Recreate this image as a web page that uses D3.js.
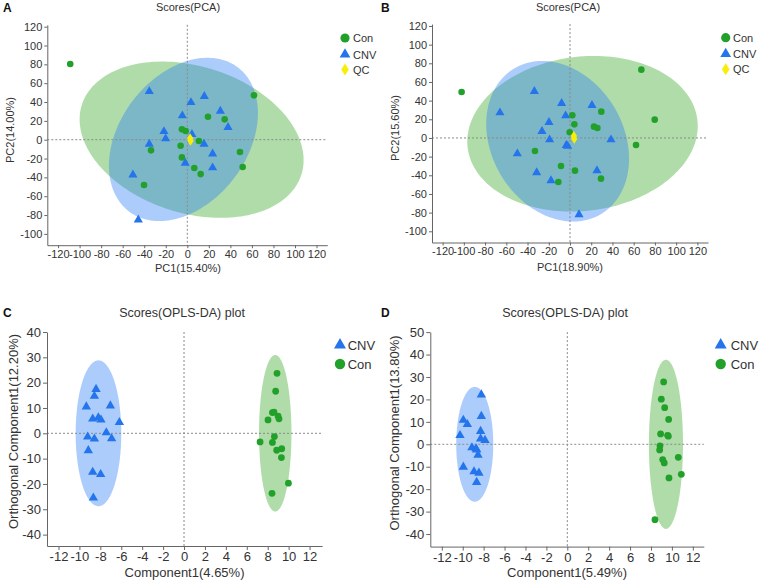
<!DOCTYPE html>
<html>
<head>
<meta charset="utf-8">
<script src="https://cdn.jsdelivr.net/npm/d3@7"></script>
<style>
  body { margin: 0; background: #fff; }
  svg { display: block; font-family: "Liberation Sans", Arial, sans-serif; }
</style>
</head>
<body>
<svg id="chart" width="760" height="580"></svg>
<script>
// ---------------- DATA ----------------
// Panel A: PCA
const aCon = [[-108.7,80.4],[61.9,47.1],[19.2,24.4],[34.7,21.6],[-5,11],[-1.5,9.2],[-6.2,-6.4],[10.8,-1.4],[-33.7,-11.3],[-5,-18.8],[6.5,-30.1],[12.4,-36.5],[48.9,-13.1],[51.4,-29],[-40.2,-48.1]];
const aCNV = [[-35.3,51.3],[3.4,39.6],[15.8,46],[30.7,30.4],[37.8,13.1],[-4.6,25.5],[-21.7,8.8],[-20.1,1.1],[-35.3,-4.6],[4.3,5.7],[15.5,-4.6],[23.5,-14.9],[23.5,-29.7],[-1.9,-24.8],[-50.5,-37.2],[-45.5,-85]];
const aQC = [[2.6,1.6],[3,-1.2]];
// Panel B: PCA
const bCon = [[-102.1,49.3],[67.2,73.2],[79.8,19.6],[62.2,-7.5],[29.5,28.2],[2.2,24.3],[4.1,14.6],[-0.3,6.1],[22.6,12.1],[25.8,10.7],[-33,-13.9],[-8.5,-30],[4.7,-35],[-11,-47.1],[29.2,-43.6]];
const bCNV = [[-33.6,50],[-66,27.1],[-7.9,37.1],[20.7,35],[-4.1,23.9],[-19.8,16.8],[-26.4,7.1],[-19.2,-1.8],[-3.5,-7.9],[-2.2,-8.6],[38.6,-1.8],[-49.6,-16.8],[-31.4,-37.1],[-17.9,-45.7],[25.4,-35],[8.5,-82.1]];
const bQC = [[3.6,2.2],[4,-0.8]];
// Panel C: OPLS-DA
const cCNV = [[-8.41,17.4],[-8.57,14.7],[-9.34,10.5],[-7.04,10.9],[-8.73,5.7],[-8.19,6.2],[-7.94,5.3],[-6.18,4.3],[-7.43,0.3],[-9.21,-1.4],[-8.57,-2.2],[-6.92,-2.1],[-9.15,-6.8],[-8.73,-15.3],[-7.97,-16.2],[-8.67,-25.5]];
const cCon = [[8.89,23.7],[8.76,16.6],[8.45,8.2],[8.6,8.4],[8.03,5.3],[8.99,6.8],[9.08,5.7],[8.64,-1.3],[7.27,-3.4],[8.45,-3.6],[8.86,-6.7],[9.34,-6.1],[9.31,-9.6],[9.98,-19.7],[8.41,-23.7]];
// Panel D: OPLS-DA
const dCNV = [[-8.22,22.1],[-8.22,12.5],[-9.94,10.8],[-9.56,8.9],[-10.26,4],[-8.29,5.8],[-8.29,2.5],[-7.87,1.8],[-9.12,-1.5],[-8.73,-1.9],[-8.67,-2.5],[-8.54,-4.8],[-9.94,-10.1],[-8.92,-12.2],[-8.45,-12.8],[-8.67,-16.9]];
const dCon = [[9.21,27.8],[8.99,20.1],[9.31,16.3],[9.69,11.1],[8.92,4.6],[9.59,4],[9.66,3.6],[8.86,-0.7],[8.83,-2.5],[9.12,-6.8],[9.27,-8.3],[10.61,-5.8],[10.9,-13.4],[9.72,-15],[8.38,-33.6]];

// Confidence ellipses: [cx, cy, semi-axis a, semi-axis b, rotation deg] in data units
const aConEllipse = [4, 0, 108.8, 76.6, -24.4];
const aCNVEllipse = [-3.6, 0.3, 92.3, 61.5, 62.6];
const bConEllipse = [11.8, 4.5, 109.3, 82.4, 10.2];
const bCNVEllipse = [-11.65, -3.55, 88.7, 63.7, -69.5];
const cCNVEllipse = [-8.18, 0, 2.18, 28.8, 0];
const cConEllipse = [8.72, 0, 1.55, 30.9, 0];
const dCNVEllipse = [-8.85, 0, 1.77, 25.6, 0];
const dConEllipse = [9.43, 0, 1.63, 37.7, 0];

// Tick values
const pcaXTicks = [-120,-100,-80,-60,-40,-20,0,20,40,60,80,100,120];
const pcaYTicks = [-100,-80,-60,-40,-20,0,20,40,60,80,100,120];
const oplsXTicks = [-12,-10,-8,-6,-4,-2,0,2,4,6,8,10,12];
const cYTicks = [-40,-30,-20,-10,0,10,20,30,40];
const dYTicks = [-40,-30,-20,-10,0,10,20,30,40,50];

// Texts
const pcaTitle = "Scores(PCA)";
const oplsTitle = "Scores(OPLS-DA) plot";
const groupCon = "Con", groupCNV = "CNV", groupQC = "QC";

// ---------------- STYLE ----------------
const GREEN = "#22a12a", BLUE = "#2474ec", YELLOW = "#f7ef0a";
const GREEN_FILL = "#4caf3e", BLUE_FILL = "#2f7ff5";
const svg = d3.select("#chart");

function drawMarker(g, kind, px, py, s) {
  if (kind === "circle") {
    g.append("circle").attr("cx", px).attr("cy", py).attr("r", s.r).attr("fill", GREEN);
  } else if (kind === "triangle") {
    g.append("path").attr("d", d3.symbol().type(d3.symbolTriangle).size(s.tri)())
      .attr("transform", `translate(${px},${py})`).attr("fill", BLUE);
  } else {
    const w = s.dw, h = s.dh;
    g.append("path").attr("d", `M0,${-h}L${w},0L0,${h}L${-w},0Z`)
      .attr("transform", `translate(${px},${py})`).attr("fill", YELLOW);
  }
}

function panel(cfg) {
  const g = svg.append("g");
  const x = d3.scaleLinear().domain(cfg.xDom).range(cfg.xRange);
  const y = d3.scaleLinear().domain(cfg.yDom).range(cfg.yRange);

  // ellipses
  cfg.ellipses.forEach(([e, fill, op]) => {
    const [cx, cy, a, b, deg] = e;
    const phi = deg * Math.PI / 180;
    const pts = d3.range(0, 180).map(i => {
      const t = i / 180 * 2 * Math.PI;
      const ux = a * Math.cos(t), uy = b * Math.sin(t);
      const dx = ux * Math.cos(phi) - uy * Math.sin(phi);
      const dy = ux * Math.sin(phi) + uy * Math.cos(phi);
      return [x(cx + dx), y(cy + dy)];
    });
    g.append("path").attr("d", d3.line().curve(d3.curveLinearClosed)(pts))
      .attr("fill", fill).attr("fill-opacity", op).attr("stroke", "none");
  });

  // zero lines
  g.append("line").attr("x1", x(0)).attr("x2", x(0)).attr("y1", cfg.yRange[1]).attr("y2", cfg.yRange[0])
    .attr("stroke", "#8a8a8a").attr("stroke-width", 1).attr("stroke-dasharray", "2,2");
  g.append("line").attr("x1", cfg.xRange[0]).attr("x2", cfg.xRange[1]).attr("y1", y(0)).attr("y2", y(0))
    .attr("stroke", "#8a8a8a").attr("stroke-width", 1).attr("stroke-dasharray", "2,2");

  // axes
  const ax = g.append("g").attr("transform", `translate(0,${cfg.yRange[0]})`)
    .call(d3.axisBottom(x).tickValues(cfg.xTicks).tickFormat(d => String(d)).tickSize(cfg.tickSize).tickSizeOuter(0).tickPadding(cfg.tickPad));
  const ay = g.append("g").attr("transform", `translate(${cfg.xRange[0]},0)`)
    .call(d3.axisLeft(y).tickValues(cfg.yTicks).tickFormat(d => String(d)).tickSize(cfg.tickSize).tickSizeOuter(0).tickPadding(cfg.tickPad));
  [ax, ay].forEach(a => {
    a.selectAll("path").attr("stroke", "#666");
    a.selectAll("line").attr("stroke", "#666");
    a.selectAll("text").attr("fill", "#333").style("font-size", cfg.tickFont + "px")
      .style("font-family", '"Liberation Sans", Arial, sans-serif');
  });

  // points
  cfg.series.forEach(([data, kind]) => {
    data.forEach(d => drawMarker(g, kind, x(d[0]), y(d[1]), cfg.marker));
  });

  // titles & labels
  g.append("text").attr("x", cfg.letter[0]).attr("y", cfg.letter[1]).text(cfg.letterText)
    .attr("font-weight", "bold").attr("font-size", 12).attr("fill", "#111");
  g.append("text").attr("x", cfg.title[0]).attr("y", cfg.title[1]).text(cfg.titleText)
    .attr("text-anchor", "middle").attr("font-size", cfg.titleFont).attr("fill", "#333");
  g.append("text").attr("x", cfg.xLab[0]).attr("y", cfg.xLab[1]).text(cfg.xLabText)
    .attr("text-anchor", "middle").attr("dominant-baseline", "central").attr("font-size", cfg.labFont).attr("fill", "#333");
  g.append("text").attr("transform", `translate(${cfg.yLab[0]},${cfg.yLab[1]}) rotate(-90)`).text(cfg.yLabText)
    .attr("text-anchor", "middle").attr("dominant-baseline", "central").attr("font-size", cfg.labFont).attr("fill", "#333");

  // legend
  cfg.legend.forEach(([label, kind, ly]) => {
    drawMarker(g, kind, cfg.legX, ly, cfg.legMarker);
    g.append("text").attr("x", cfg.legTextX).attr("y", ly).attr("dominant-baseline", "central")
      .text(label).attr("font-size", cfg.legFont).attr("fill", "#333");
  });
}

const pcaMarker = {r: 3.3, tri: 36, dw: 3.2, dh: 5};
const pcaLegMarker = {r: 4.6, tri: 50, dw: 3.8, dh: 6};
const oplsMarker = {r: 3.4, tri: 38, dw: 3.2, dh: 5};
const oplsLegMarker = {r: 5.2, tri: 62, dw: 4, dh: 6};

panel({
  xDom: [-130, 130], xRange: [47.3, 327.3], yDom: [-112, 122], yRange: [245.2, 24.8],
  xTicks: pcaXTicks, yTicks: pcaYTicks, tickSize: 3, tickPad: 2, tickFont: 11,
  ellipses: [[aConEllipse, GREEN_FILL, 0.44], [aCNVEllipse, BLUE_FILL, 0.4]],
  series: [[aCon, "circle"], [aCNV, "triangle"], [aQC, "diamond"]], marker: pcaMarker,
  letter: [3, 12], letterText: "A", title: [188, 10.5], titleText: pcaTitle, titleFont: 11,
  xLab: [188, 268], xLabText: "PC1(15.40%)", yLab: [10, 130], yLabText: "PC2(14.00%)", labFont: 11,
  legend: [[groupCon, "circle", 38], [groupCNV, "triangle", 54.5], [groupQC, "diamond", 69.5]],
  legX: 345, legTextX: 353, legMarker: pcaLegMarker, legFont: 11
});

panel({
  xDom: [-130, 130], xRange: [432, 708], yDom: [-112, 122], yRange: [242.5, 24.1],
  xTicks: pcaXTicks, yTicks: pcaYTicks, tickSize: 3, tickPad: 2, tickFont: 11,
  ellipses: [[bConEllipse, GREEN_FILL, 0.44], [bCNVEllipse, BLUE_FILL, 0.4]],
  series: [[bCon, "circle"], [bCNV, "triangle"], [bQC, "diamond"]], marker: pcaMarker,
  letter: [381, 12], letterText: "B", title: [568, 10.5], titleText: pcaTitle, titleFont: 11,
  xLab: [570, 266.5], xLabText: "PC1(18.90%)", yLab: [395, 128], yLabText: "PC2(15.60%)", labFont: 11,
  legend: [[groupCon, "circle", 37.7], [groupCNV, "triangle", 54], [groupQC, "diamond", 69.3]],
  legX: 725.7, legTextX: 733, legMarker: pcaLegMarker, legFont: 11
});

panel({
  xDom: [-13.1, 13.2], xRange: [47, 322.1], yDom: [-44.5, 40], yRange: [546, 332],
  xTicks: oplsXTicks, yTicks: cYTicks, tickSize: 4, tickPad: 2, tickFont: 13,
  ellipses: [[cCNVEllipse, BLUE_FILL, 0.4], [cConEllipse, GREEN_FILL, 0.44]],
  series: [[cCNV, "triangle"], [cCon, "circle"]], marker: oplsMarker,
  letter: [3, 317], letterText: "C", title: [182, 317], titleText: oplsTitle, titleFont: 12.5,
  xLab: [184.5, 572], xLabText: "Component1(4.65%)", yLab: [13.3, 431.5], yLabText: "Orthogonal Component1(12.20%)", labFont: 13,
  legend: [[groupCNV, "triangle", 345], [groupCon, "circle", 364]],
  legX: 340, legTextX: 347.7, legMarker: oplsLegMarker, legFont: 13
});

panel({
  xDom: [-13.1, 13.05], xRange: [430.3, 703.8], yDom: [-45.6, 50], yRange: [546.6, 332.1],
  xTicks: oplsXTicks, yTicks: dYTicks, tickSize: 4, tickPad: 2, tickFont: 13,
  ellipses: [[dCNVEllipse, BLUE_FILL, 0.4], [dConEllipse, GREEN_FILL, 0.44]],
  series: [[dCNV, "triangle"], [dCon, "circle"]], marker: oplsMarker,
  letter: [381, 317], letterText: "D", title: [565, 317], titleText: oplsTitle, titleFont: 12.5,
  xLab: [567, 572], xLabText: "Component1(5.49%)", yLab: [394.5, 433], yLabText: "Orthogonal Component1(13.80%)", labFont: 13,
  legend: [[groupCNV, "triangle", 345], [groupCon, "circle", 364]],
  legX: 720.7, legTextX: 730.7, legMarker: oplsLegMarker, legFont: 13
});
</script>
</body>
</html>
